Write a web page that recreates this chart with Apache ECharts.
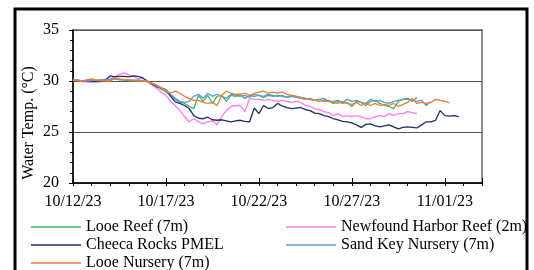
<!DOCTYPE html>
<html lang="en">
<head>
<meta charset="UTF-8">
<title>Water Temp.</title>
<style>
    html, body { margin: 0; padding: 0; background: #fff; }
    #main { width: 534px; height: 270px; }
</style>
</head>
<body>
<div id="main"></div>
<script src="https://cdn.jsdelivr.net/npm/echarts@6/dist/echarts.min.js"></script>
<script>
    // day 0 = 10/12/23, one value every 6 hours
    const dateLabels = ['10/12/23', '10/17/23', '10/22/23', '10/27/23', '11/01/23'];
    const seriesNames = ['Looe Reef (7m)', 'Newfound Harbor Reef (2m)', 'Cheeca Rocks PMEL', 'Sand Key Nursery (7m)', 'Looe Nursery (7m)'];
    const seriesColors = ['#3bb76c', '#ff7bf5', '#1c2f66', '#5b9bd5', '#ed7d31'];

    const looeReef = [
        30.1, 30.05, 30.0, 30.05,  30.1, 30.05, 30.1, 30.15,  30.1, 30.2, 30.15, 30.1,  30.05, 30.0, 30.05, 30.0,
        29.95, 29.7, 29.45, 29.2,  28.95, 28.6, 28.2, 27.95,  27.8, 27.5, 27.3, 28.6,  28.0, 28.6, 27.8, 28.5,
        28.6, 28.0, 28.6, 28.5,  28.6, 28.3, 28.6, 28.5,  28.6, 28.4, 28.6, 28.5,  28.6, 28.5, 28.4, 28.6,
        28.5, 28.4, 28.3, 28.2,  28.1, 28.2, 28.0, 28.1,  27.8, 28.0, 27.8, 27.9,  27.5, 28.0, 27.9, 27.6,
        28.0, 28.1, 27.8, 27.6,  27.5, 27.3, 28.0, 28.2,  28.3, 28.0, 28.4
    ];
    const newfound = [
        30.1, 30.05, 29.95, 29.9,  29.85, 29.95, 30.0, 30.1,  30.2, 30.4, 30.65, 30.8,  30.6, 30.45, 30.2, 30.3,
        29.95, 29.6, 29.3, 28.9,  28.6, 28.0, 27.6, 27.1,  26.5, 26.0, 26.3, 26.0,  25.8, 26.0, 26.1, 25.7,
        26.5, 27.1, 27.5, 27.6,  27.6, 27.0, 28.3, 28.2,  28.2, 28.1, 28.2, 28.1,  28.0, 28.1, 28.0, 27.9,
        28.0, 27.9, 27.6, 27.5,  27.3, 27.2, 27.0, 26.9,  26.6, 26.8, 26.5, 26.6,  26.5, 26.6, 26.5, 26.3,
        26.3, 26.5, 26.6, 26.5,  26.8, 26.6, 26.8, 26.8,  27.0, 26.9, 26.8
    ];
    const cheeca = [
        30.1, 30.05, 30.0, 30.05,  30.0, 29.95, 29.95, 30.1,  30.5, 30.4, 30.45, 30.45,  30.4, 30.5, 30.45, 30.3,
        30.0, 29.7, 29.45, 29.3,  29.15, 28.5, 27.95, 27.8,  27.6, 27.3, 26.6, 26.35,  26.3, 26.45, 26.2, 26.15,
        26.2, 26.1, 26.0, 26.1,  26.15, 26.05, 26.0, 27.35,  26.8, 27.6, 27.3, 27.4,  27.8, 27.55, 27.4, 27.3,
        27.35, 27.4, 27.2, 27.1,  26.85, 26.8, 26.6, 26.5,  26.3, 26.2, 26.05, 26.0,  25.9, 25.7, 25.45, 25.75,
        25.8, 25.6, 25.5, 25.6,  25.7, 25.5, 25.3, 25.45,  25.5, 25.45, 25.4, 25.7,  26.0, 26.0, 26.15, 27.1,
        26.6, 26.55, 26.6, 26.5
    ];
    const sandKey = [
        30.15, 30.05, 29.95, 30.0,  30.05, 30.1, 30.0, 30.1,  30.15, 30.25, 30.2, 30.1,  30.1, 30.05, 30.1, 30.0,
        29.95, 29.75, 29.5, 29.3,  29.05, 28.7, 28.3, 28.0,  27.9, 28.0, 28.5, 28.7,  28.3, 28.8, 28.5, 28.7,
        28.5, 28.3, 28.7, 28.6,  28.5, 28.6, 28.4, 28.7,  28.6, 28.5, 28.7, 28.6,  28.5, 28.6, 28.4, 28.5,
        28.4, 28.3, 28.2, 28.3,  28.1, 28.2, 28.3, 28.0,  28.0, 28.1, 27.9, 28.2,  28.0, 28.1, 27.9, 27.8,
        28.2, 28.0, 28.1, 27.9,  27.8, 28.0, 28.1, 28.2,  28.2, 28.1, 28.0, 28.1,  27.6, 28.0
    ];
    const looeNursery = [
        30.05, 30.1, 30.0, 30.1,  30.2, 30.05, 30.1, 30.0,  30.0, 30.25, 30.1, 30.15,  30.1, 30.1, 30.0, 30.05,
        30.0, 29.8, 29.6, 29.35,  29.1, 28.8, 29.0, 28.8,  28.5, 28.3, 28.1, 28.1,  27.9, 27.8, 27.9, 27.6,
        28.6, 29.0, 28.8, 28.7,  28.7, 28.8, 28.6, 28.8,  28.9, 29.0, 28.8, 28.9,  28.8, 28.9, 28.7, 28.6,
        28.5, 28.4, 28.3, 28.2,  28.1, 28.0, 28.1, 28.0,  27.9, 27.8, 28.0, 27.8,  27.7, 27.9, 27.6, 27.8,
        27.6, 27.8, 27.6, 27.7,  27.6, 27.8, 27.5, 27.7,  27.9, 28.3, 27.8, 27.9,  27.8, 27.9, 28.2, 28.1,
        28.0, 27.85
    ];
    const allValues = [looeReef, newfound, cheeca, sandKey, looeNursery];

    const serif = "'Liberation Serif', 'Times New Roman', serif";

    function toPairs(vals) {
        return vals.map((v, i) => [i / 4, v]);
    }

    const legendBase = {
        orient: 'vertical', top: 213, height: 80, icon: 'rect',
        itemWidth: 50, itemHeight: 1.5, itemGap: 0,
        textStyle: {fontFamily: serif, fontSize: 16, lineHeight: 18, color: '#000'}
    };

    let myChart = echarts.init(document.getElementById('main'));

    const option = {
        animation: false,
        textStyle: {fontFamily: serif, color: '#000'},
        graphic: [
            {
                type: 'rect',
                shape: {x: 15, y: 9, width: 512, height: 300},
                style: {fill: 'none', stroke: '#000', lineWidth: 3},
                silent: true
            }
        ],
        grid: {
            left: 73, right: 52, top: 30, bottom: 87,
            show: true, borderColor: '#8c8c8c', borderWidth: 2
        },
        legend: [
            Object.assign({}, legendBase, {left: 26, data: [seriesNames[0], seriesNames[2], seriesNames[4]]}),
            Object.assign({}, legendBase, {left: 281, data: [seriesNames[1], seriesNames[3]]})
        ],
        xAxis: [
            {
                // daily minor ticks
                type: 'value', min: 0, max: 22, interval: 1, position: 'bottom',
                axisLine: {onZero: false, lineStyle: {color: '#000', width: 1.5}},
                axisTick: {inside: false, length: 3, lineStyle: {color: '#000'}},
                axisLabel: {show: false},
                splitLine: {show: false}
            },
            {
                // 5-day major ticks with date labels
                type: 'value', min: 0, max: 22, interval: 5, position: 'bottom',
                axisLine: {show: false, onZero: false},
                axisTick: {inside: true, length: 5, lineStyle: {color: '#000'}},
                axisLabel: {
                    margin: 11, fontFamily: serif, fontSize: 16, color: '#000',
                    formatter: v => (v % 5 === 0 ? dateLabels[v / 5] : '')
                },
                splitLine: {show: false}
            }
        ],
        yAxis: {
            type: 'value', min: 20, max: 35, interval: 5,
            name: 'Water Temp. (°C)', nameLocation: 'middle', nameGap: 36, nameMoveOverlap: false,
            nameTextStyle: {fontFamily: serif, fontSize: 16, color: '#000', padding: [0, 33, 0, 0]},
            axisLine: {show: true, lineStyle: {color: '#000', width: 1.5}},
            axisTick: {show: true, length: 4, lineStyle: {color: '#000'}},
            minorTick: {show: true, splitNumber: 5, length: 3, lineStyle: {color: '#000'}},
            axisLabel: {margin: 14, fontFamily: serif, fontSize: 16, color: '#000'},
            splitLine: {show: true, lineStyle: {color: '#555', width: 1}}
        },
        series: allValues.map((vals, k) => ({
            name: seriesNames[k],
            type: 'line',
            xAxisIndex: 0,
            symbol: 'none',
            color: seriesColors[k],
            lineStyle: {width: 1.3, color: seriesColors[k]},
            data: toPairs(vals)
        }))
    };

    myChart.setOption(option);
</script>
</body>
</html>
